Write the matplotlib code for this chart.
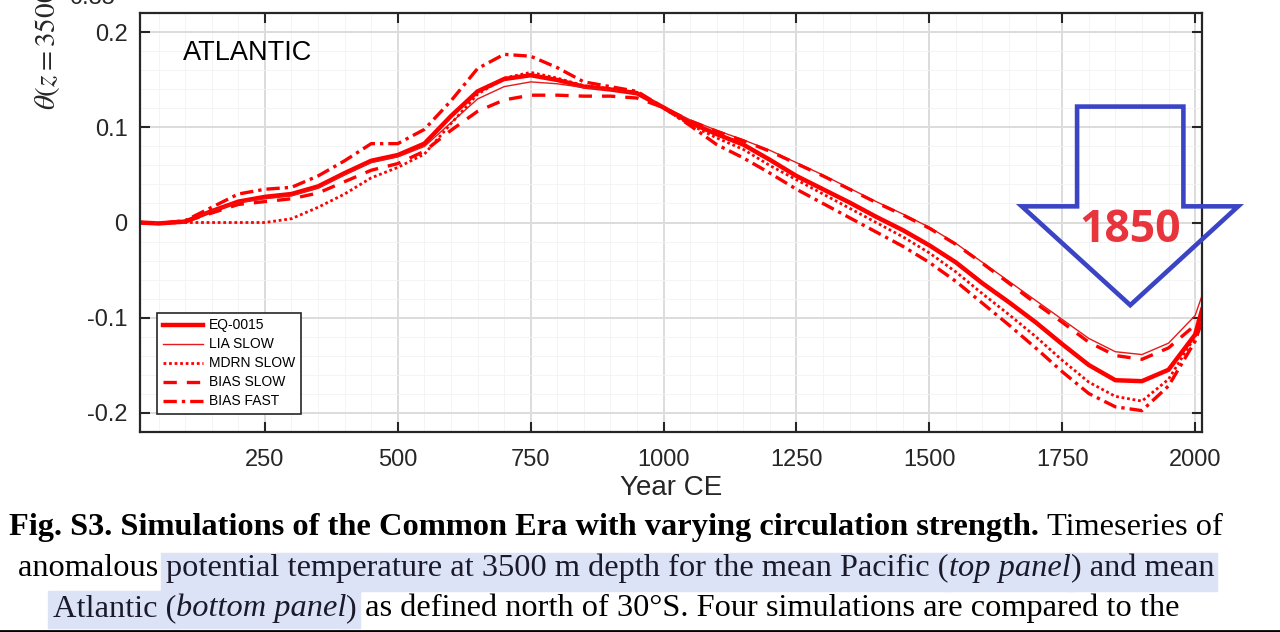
import numpy as np
import matplotlib
matplotlib.use('Agg')
import matplotlib.pyplot as plt
from matplotlib.patches import Polygon, Rectangle
from matplotlib.lines import Line2D
from matplotlib.transforms import IdentityTransform
from matplotlib.ticker import AutoMinorLocator

plt.rcParams['font.family'] = ['Liberation Sans', 'DejaVu Sans']
plt.rcParams['axes.unicode_minus'] = False
plt.rcParams['mathtext.fontset'] = 'stix'

# values (Atlantic, anomaly of theta at 3500 m)
years = [15, 50, 100, 150, 200, 250, 300, 350, 400, 450, 500, 550, 600, 650, 700,
         750, 800, 850, 900, 950, 1000, 1050, 1100, 1150, 1200, 1250, 1300, 1350,
         1400, 1450, 1500, 1550, 1600, 1650, 1700, 1750, 1800, 1850, 1900, 1950,
         2000, 2013]
eq_0015 = [0.0, -0.001, 0.001, 0.012, 0.022, 0.027, 0.030, 0.038, 0.052, 0.065, 0.071,
           0.083, 0.112, 0.138, 0.151, 0.155, 0.150, 0.143, 0.140, 0.136, 0.121, 0.105,
           0.093, 0.082, 0.066, 0.049, 0.035, 0.021, 0.006, -0.008, -0.024, -0.042,
           -0.064, -0.084, -0.105, -0.128, -0.150, -0.166, -0.167, -0.155, -0.118, -0.092]
lia_slow = [0.0, -0.001, 0.001, 0.012, 0.021, 0.025, 0.028, 0.036, 0.050, 0.063, 0.069,
            0.080, 0.105, 0.130, 0.143, 0.148, 0.146, 0.142, 0.140, 0.136, 0.122, 0.108,
            0.097, 0.087, 0.076, 0.063, 0.050, 0.036, 0.022, 0.009, -0.005, -0.022,
            -0.042, -0.062, -0.082, -0.102, -0.122, -0.136, -0.139, -0.127, -0.098, -0.077]
mdrn_slow = [0.0, -0.001, 0.0, 0.0, 0.0, 0.0, 0.004, 0.016, 0.030, 0.047, 0.058,
             0.072, 0.104, 0.135, 0.152, 0.158, 0.152, 0.144, 0.141, 0.137, 0.120, 0.103,
             0.089, 0.077, 0.060, 0.045, 0.030, 0.015, 0.0, -0.015, -0.032, -0.052,
             -0.075, -0.097, -0.120, -0.145, -0.168, -0.183, -0.188, -0.165, -0.120, -0.102]
bias_slow = [0.0, -0.001, 0.001, 0.010, 0.019, 0.022, 0.025, 0.031, 0.043, 0.055, 0.062,
             0.075, 0.097, 0.117, 0.129, 0.134, 0.134, 0.133, 0.133, 0.131, 0.121, 0.107,
             0.096, 0.086, 0.075, 0.062, 0.049, 0.035, 0.021, 0.008, -0.006, -0.023,
             -0.043, -0.064, -0.085, -0.105, -0.126, -0.140, -0.144, -0.132, -0.108, -0.098]
bias_fast = [0.0, -0.001, 0.002, 0.016, 0.030, 0.035, 0.037, 0.049, 0.065, 0.083, 0.083,
             0.098, 0.128, 0.162, 0.177, 0.175, 0.163, 0.148, 0.143, 0.138, 0.121, 0.102,
             0.082, 0.068, 0.052, 0.035, 0.020, 0.005, -0.010, -0.025, -0.042, -0.062,
             -0.085, -0.108, -0.132, -0.157, -0.180, -0.194, -0.198, -0.172, -0.125, -0.104]

xtick_vals = [250, 500, 750, 1000, 1250, 1500, 1750, 2000]
ytick_vals = [-0.2, -0.1, 0, 0.1, 0.2]
ytick_labels = ['-0.2', '-0.1', '0', '0.1', '0.2']

fig = plt.figure(figsize=(12.8, 6.32), dpi=100)
ax = fig.add_axes([140 / 1280, 200 / 632, 1062 / 1280, 419 / 632])

red = '#ff0000'
ax.plot(years, eq_0015, color=red, lw=3.2, label='EQ-0015')
ax.plot(years, lia_slow, color='#e51a1a', lw=1.0, label='LIA SLOW')
ax.plot(years, mdrn_slow, color=red, lw=2.0, ls=(0, (1, 1)), label='MDRN SLOW')
ax.plot(years, bias_slow, color=red, lw=2.4, ls=(0, (4, 3)), label='BIAS SLOW')
ax.plot(years, bias_fast, color=red, lw=2.4, ls=(0, (4, 1.5, 1, 1.5)), label='BIAS FAST')

ax.set_xlim(15, 2013)
ax.set_ylim(-0.2205, 0.2205)
ax.set_xticks(xtick_vals)
ax.set_yticks(ytick_vals)
ax.set_yticklabels(ytick_labels)
ax.xaxis.set_minor_locator(AutoMinorLocator(5))
ax.yaxis.set_minor_locator(AutoMinorLocator(5))
ax.tick_params(which='major', direction='in', length=7, width=1.5, top=True, right=True,
               labelsize=17, labelcolor='#262626', color='#262626')
ax.tick_params(axis='y', pad=9)
ax.tick_params(axis='x', pad=12)
ax.tick_params(which='minor', length=0)
ax.grid(True, which='major', color='#dcdcdc', lw=1.4)
ax.grid(True, which='minor', color='#f3f3f3', lw=0.6)
ax.set_axisbelow(True)
for sp in ax.spines.values():
    sp.set_linewidth(1.6)
    sp.set_color('#262626')

ax.set_xlabel('Year CE', fontsize=20, color='#262626', labelpad=3)
ax.text(0.0405, 0.905, 'ATLANTIC', transform=ax.transAxes, fontsize=19.5, va='center')

leg = ax.legend(loc='lower left', bbox_to_anchor=(0.016, 0.043), fontsize=10,
                handlelength=2.9, labelspacing=0.36, borderpad=0.4, handletextpad=0.45,
                fancybox=False, framealpha=1, edgecolor='#262626', borderaxespad=0)
leg.get_frame().set_linewidth(1.2)

# blue arrow + 1850 annotation (in data coordinates)
arrow_x = [1778, 1978, 1978, 2081, 1878, 1674, 1778]
arrow_y = [0.122, 0.122, 0.017, 0.017, -0.087, 0.017, 0.017]
ax.add_patch(Polygon(np.column_stack([arrow_x, arrow_y]), closed=True, fill=False,
                     edgecolor='#3a44c4', lw=3.3, joinstyle='miter', clip_on=False, zorder=5))
ax.text(1878, -0.0087, '1850', fontsize=32, fontweight='bold', color='#e8343c',
        family=['Open Sans', 'DejaVu Sans'], ha='center', va='center', zorder=6)

# cut-off axis label and tick label from the page
fig.text(48, 522, r'$\theta(z=3500\,\mathrm{m})\ [^\circ\mathrm{C}]$', fontsize=21,
         rotation=90, ha='center', va='bottom', transform=IdentityTransform(), color='#262626')
fig.text(115, 628, '0.35', fontsize=17, ha='right', va='baseline',
         transform=IdentityTransform(), color='#262626')

# caption
renderer = fig.canvas.get_renderer()
serif = ['Liberation Serif', 'DejaVu Serif']
cap_size = 23.3


def text_width(s, **kw):
    t = fig.text(0, 0, s + '|', transform=IdentityTransform(), **kw)
    w1 = t.get_window_extent(renderer).width
    t.set_text('|')
    w2 = t.get_window_extent(renderer).width
    t.remove()
    return w1 - w2


def caption_line(runs, center, base, hl_y=None):
    widths = [text_width(s, family=serif, fontsize=cap_size, **kw) for s, kw, h in runs]
    x = center - sum(widths) / 2
    for (s, kw, h), w in zip(runs, widths):
        if h and hl_y is not None:
            fig.patches.append(Rectangle((x - 5, hl_y[0]), w + 8, hl_y[1] - hl_y[0],
                                         transform=IdentityTransform(), color='#dde3f7',
                                         zorder=0, figure=fig))
        fig.text(x, base, s, family=serif, fontsize=cap_size, va='baseline',
                 transform=IdentityTransform(), color='#1a1a2a' if h else 'black', **kw)
        x += w


B = dict(fontweight='bold')
N = dict()
I = dict(fontstyle='italic')
caption_line([('Fig. S3. Simulations of the Common Era with varying circulation strength. ', B, False),
              ('Timeseries of', N, False)], 616, 97)
caption_line([('anomalous ', N, False),
              ('potential temperature at 3500 m depth for the mean Pacific (', N, True),
              ('top panel', I, True), (') and mean', N, True)], 616, 56, hl_y=(41, 79))
caption_line([('Atlantic (', N, True), ('bottom panel', I, True), (')', N, True),
              (' as defined north of 30\u00b0S. Four simulations are compared to the', N, False)],
             616, 16, hl_y=(4, 41))
fig.add_artist(Line2D([0, 1], [0.002, 0.002], transform=fig.transFigure, color='black', lw=2))

fig.savefig('out.png', dpi=100)
